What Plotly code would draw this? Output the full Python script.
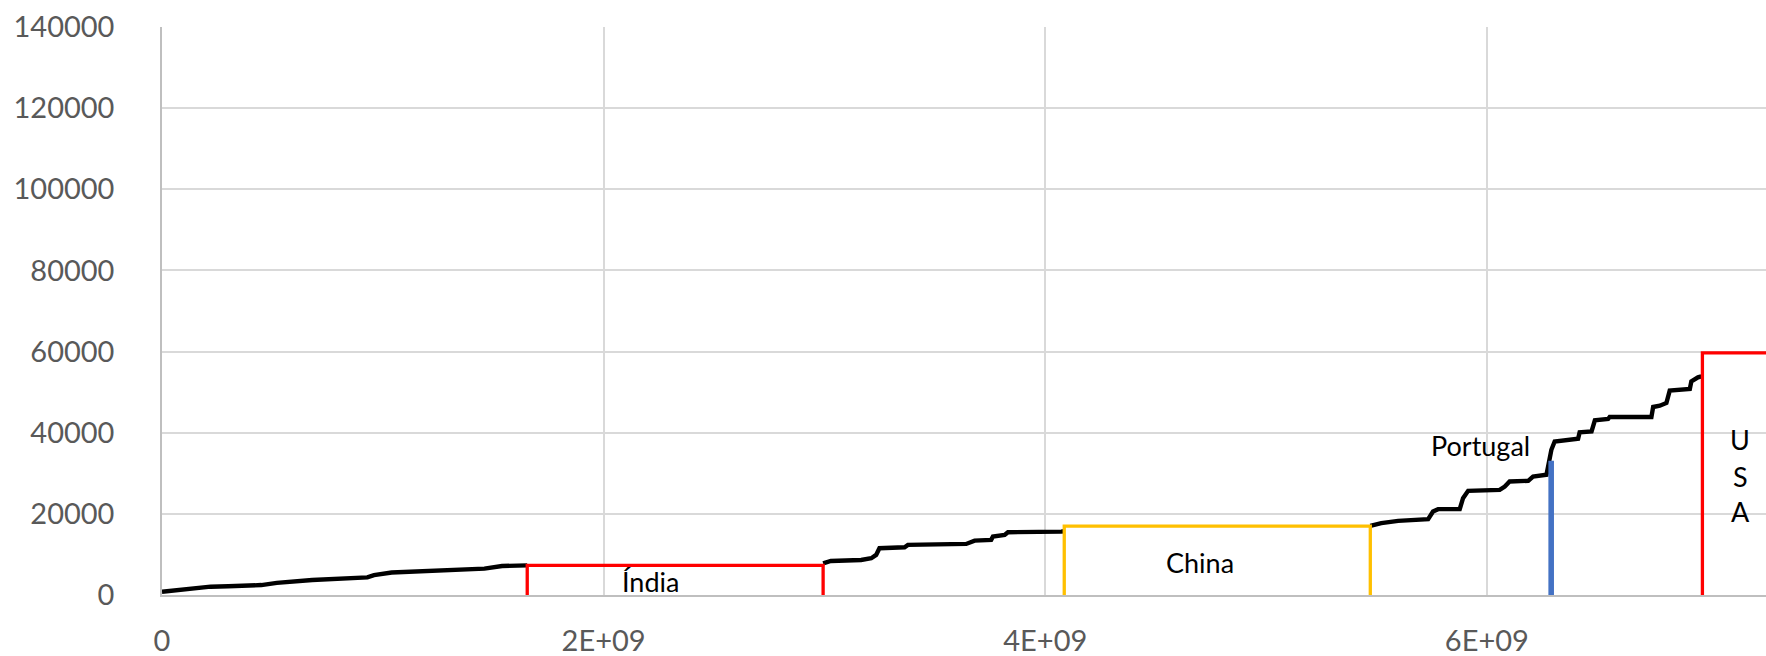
import plotly.graph_objects as go

# Cumulative population (countries sorted by GDP per capita) vs GDP per capita, PPP
# Black curve, split where highlighted countries are drawn as boxes
seg1_pop = [0, 0.03e9, 0.10e9, 0.22e9, 0.30e9, 0.45e9, 0.52e9, 0.60e9, 0.68e9,
            0.93e9, 0.96e9, 1.04e9, 1.23e9, 1.46e9, 1.54e9, 1.654e9]
seg1_gdp = [800, 950, 1350, 2050, 2150, 2450, 3000, 3300, 3700,
            4350, 4900, 5550, 6000, 6500, 7150, 7300]

seg2_pop = [2.994e9, 3.029e9, 3.166e9, 3.212e9, 3.234e9, 3.249e9, 3.363e9, 3.378e9,
            3.642e9, 3.657e9, 3.680e9, 3.755e9, 3.763e9, 3.816e9, 3.831e9, 4.072e9, 4.086e9]
seg2_gdp = [7800, 8390, 8640, 9060, 9880, 11530, 11780, 12350,
            12590, 13010, 13410, 13580, 14390, 14810, 15480, 15630, 15700]

seg3_pop = [5.472e9, 5.522e9, 5.598e9, 5.734e9, 5.756e9, 5.779e9, 5.877e9, 5.892e9,
            5.915e9, 6.058e9, 6.081e9, 6.103e9, 6.187e9, 6.209e9, 6.270e9, 6.292e9,
            6.307e9, 6.413e9, 6.420e9, 6.474e9, 6.489e9, 6.549e9, 6.556e9, 6.745e9,
            6.753e9, 6.783e9, 6.813e9, 6.828e9, 6.919e9, 6.926e9, 6.956e9, 6.971e9]
seg3_gdp = [17040, 17700, 18270, 18690, 20570, 21160, 21160, 23870,
            25680, 25920, 26740, 27970, 28150, 29210, 29630, 35800,
            37850, 38520, 40080, 40300, 43040, 43380, 43870, 43870,
            46340, 46660, 47330, 50370, 50790, 52660, 53650, 53900]

# Highlighted countries: label, cumulative population at start, population, GDP per capita, colour
countries = ["Índia", "China", "Portugal", "USA"]
country_start = [1.654e9, 4.086e9, 6.286e9, 6.976e9]
country_pop = [1.340e9, 1.386e9, 0.0103e9, 0.327e9]
country_gdp = [7300, 17000, 32700, 59700]
country_color = ["#FF0000", "#FFC000", "#4472C4", "#FF0000"]

x_tickvals = [0, 2e9, 4e9, 6e9]
x_ticktext = ["0", "2E+09", "4E+09", "6E+09"]
y_tickvals = [0, 20000, 40000, 60000, 80000, 100000, 120000, 140000]

fig = go.Figure()

for px_, gy in [(seg1_pop, seg1_gdp), (seg2_pop, seg2_gdp), (seg3_pop, seg3_gdp)]:
    fig.add_trace(go.Scatter(x=px_, y=gy, mode="lines",
                             line=dict(color="black", width=4.4),
                             hoverinfo="skip", showlegend=False))

for name, x0, w, g, c in zip(countries, country_start, country_pop, country_gdp, country_color):
    fig.add_trace(go.Scatter(x=[x0, x0, x0 + w, x0 + w], y=[0, g, g, 0], mode="lines",
                             line=dict(color=c, width=3.3),
                             name=name, showlegend=False))

label_font = dict(family="Lato, 'Open Sans', sans-serif", size=27, color="black")
annotations = [
    dict(x=2.21e9, y=3300, text="Índia"),
    dict(x=4.70e9, y=8000, text="China"),
    dict(x=5.97e9, y=36800, text="Portugal"),
    dict(x=7.147e9, y=38300, text="U"),
    dict(x=7.147e9, y=29100, text="S"),
    dict(x=7.147e9, y=20500, text="A"),
]
for a in annotations:
    a.update(xref="x", yref="y", showarrow=False, font=label_font,
             xanchor="center", yanchor="middle")

tick_font = dict(family="Lato, 'Open Sans', sans-serif", size=29, color="#595959")

fig.update_layout(
    width=1766, height=656,
    margin=dict(l=162, r=0, t=27, b=61, pad=0, autoexpand=False),
    paper_bgcolor="white", plot_bgcolor="white",
    annotations=annotations,
    xaxis=dict(range=[0, 7.264e9], tickvals=x_tickvals, ticktext=x_ticktext,
               showgrid=True, gridcolor="#D9D9D9", gridwidth=1.5,
               showline=True, linecolor="#BFBFBF", linewidth=2,
               zeroline=False, ticks="", tickfont=tick_font, ticklabelstandoff=19,
               automargin=False),
    yaxis=dict(range=[0, 140000], tickvals=y_tickvals, tickformat="d",
               showgrid=True, gridcolor="#D9D9D9", gridwidth=1.5,
               showline=True, linecolor="#BFBFBF", linewidth=1.5,
               zeroline=False, ticks="", tickfont=tick_font, ticklabelstandoff=40,
               automargin=False),
)

fig.write_html("out.html")
